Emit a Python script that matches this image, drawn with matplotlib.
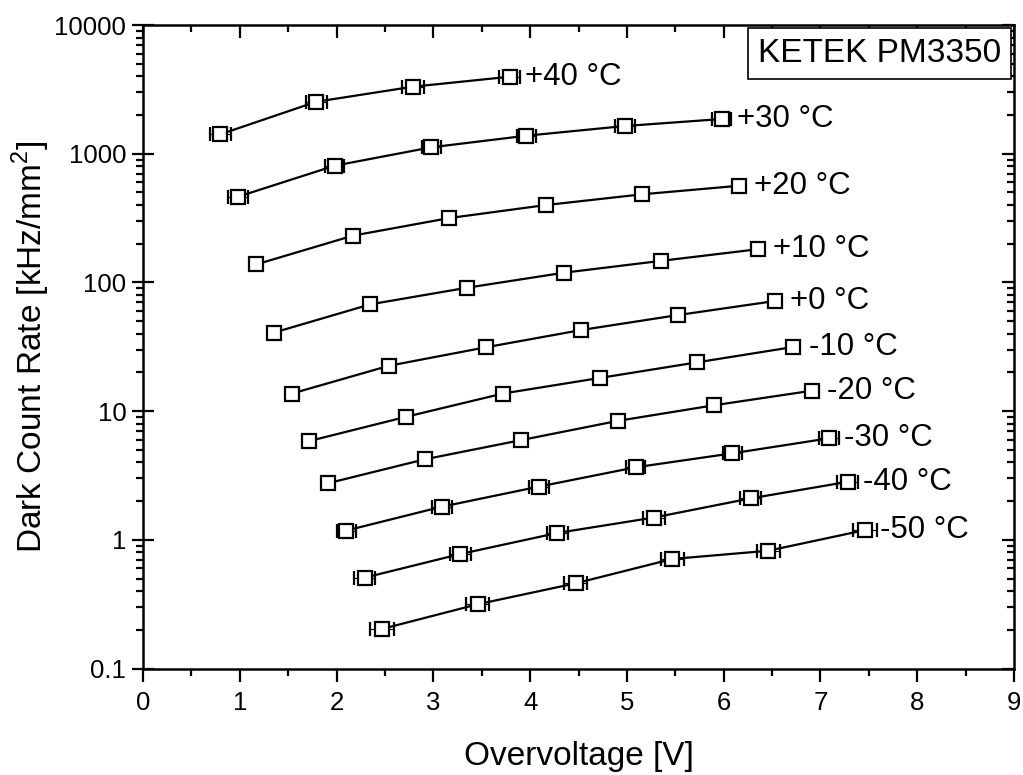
import numpy as np
import matplotlib
matplotlib.use("Agg")
import matplotlib.pyplot as plt
from matplotlib.ticker import LogLocator, FuncFormatter, MultipleLocator
from matplotlib.offsetbox import AnchoredText

plt.rcParams['font.family'] = ['Liberation Sans', 'DejaVu Sans']

labels = ['+40 °C', '+30 °C', '+20 °C', '+10 °C', '+0 °C',
          '-10 °C', '-20 °C', '-30 °C', '-40 °C', '-50 °C']

overvoltage = [
    [0.80, 1.79, 2.79, 3.79],
    [0.98, 1.98, 2.98, 3.96, 4.98, 5.98],
    [1.17, 2.17, 3.16, 4.16, 5.16, 6.16],
    [1.35, 2.35, 3.35, 4.35, 5.35, 6.35],
    [1.54, 2.54, 3.54, 4.53, 5.53, 6.53],
    [1.72, 2.72, 3.72, 4.72, 5.72, 6.72],
    [1.91, 2.91, 3.91, 4.91, 5.90, 6.91],
    [2.10, 3.09, 4.09, 5.09, 6.09, 7.09],
    [2.29, 3.28, 4.28, 5.28, 6.28, 7.28],
    [2.47, 3.46, 4.47, 5.47, 6.46, 7.46],
]

dcr = [
    [1416, 2535, 3318, 3966],
    [463, 807, 1122, 1380, 1642, 1861],
    [138, 231, 316, 399, 484, 564],
    [40.7, 67.6, 91, 119, 147, 181],
    [13.7, 22.5, 31.3, 42.7, 55.8, 71.7],
    [5.86, 9.04, 13.7, 18.1, 23.9, 31.5],
    [2.75, 4.22, 5.96, 8.41, 11.1, 14.4],
    [1.18, 1.81, 2.59, 3.66, 4.70, 6.15],
    [0.508, 0.776, 1.13, 1.49, 2.10, 2.82],
    [0.203, 0.316, 0.459, 0.71, 0.822, 1.19],
]

# horizontal error on the overvoltage, per temperature
volt_err = [0.11, 0.10, 0.05, 0.05, 0.05, 0.05, 0.05, 0.10, 0.11, 0.12]

fig = plt.figure(figsize=(10.23, 7.75), dpi=100)
ax = fig.add_axes([0.1398, 0.1374, 0.8514, 0.8303])

for x, y, lab, xe in zip(overvoltage, dcr, labels, volt_err):
    ax.errorbar(x, y, xerr=xe, yerr=np.array(y) * 0.03, fmt='s-', color='black',
                mfc='white', mec='black', ms=10, mew=1.6, lw=1.6,
                elinewidth=0.8, capsize=5, capthick=0.8, ecolor='black')
    ax.annotate(lab, (x[-1], y[-1]), xytext=(11, 0), textcoords='offset points',
                va='center', ha='left', fontsize=22.5)

ax.set_yscale('log')
ax.set_xlim(0, 9)
ax.set_ylim(0.1, 10000)

ax.xaxis.set_major_locator(MultipleLocator(1))
ax.xaxis.set_minor_locator(MultipleLocator(0.5))
ax.yaxis.set_major_locator(LogLocator(base=10, numticks=10))
ax.yaxis.set_minor_locator(LogLocator(base=10, subs=np.arange(2, 10), numticks=10))
ax.yaxis.set_major_formatter(FuncFormatter(lambda v, p: '%g' % v))

ax.tick_params(which='both', top=True, right=True, width=1.6, labelsize=18.5)
ax.tick_params(which='major', length=9)
ax.tick_params(which='minor', length=5)
ax.tick_params(axis='x', which='both', direction='out', pad=7)
ax.tick_params(axis='y', which='minor', direction='out')
ax.tick_params(axis='y', which='major', direction='inout', length=16, pad=4)
# top and right ticks point inward
for t in ax.xaxis.get_major_ticks() + ax.xaxis.get_minor_ticks():
    t.tick2line.set_marker(matplotlib.lines.TICKDOWN)
for t in ax.yaxis.get_minor_ticks():
    t.tick2line.set_marker(matplotlib.lines.TICKLEFT)
for t in ax.yaxis.get_major_ticks():
    t.tick2line.set_marker(matplotlib.lines.TICKLEFT)
    t.tick2line.set_markersize(9)

for s in ax.spines.values():
    s.set_linewidth(1.8)

ax.set_xlabel('Overvoltage [V]', fontsize=24, labelpad=19)
ax.set_ylabel('Dark Count Rate [kHz/mm$^\\mathregular{2}$]', fontsize=24, labelpad=2)

box = AnchoredText('KETEK PM3350', loc='upper right', pad=0.3, borderpad=0.1,
                   prop=dict(size=24), frameon=True)
box.patch.set_boxstyle('square,pad=0')
box.patch.set_linewidth(1.2)
ax.add_artist(box)

fig.savefig('out.png', dpi=100)
